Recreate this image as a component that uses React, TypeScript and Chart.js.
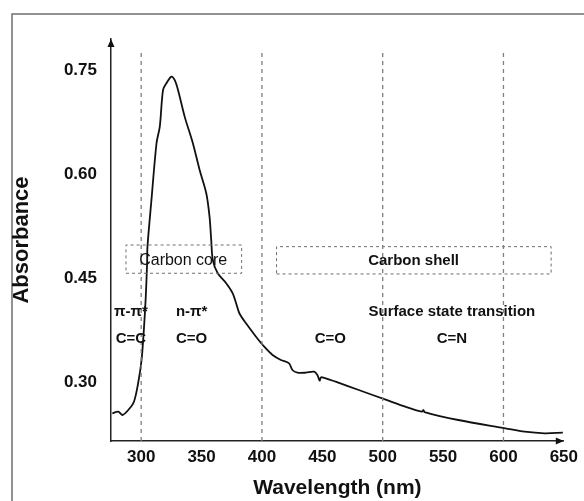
import React, { useEffect, useRef } from "react";
import { Chart, registerables } from "chart.js";

Chart.register(...registerables);

// Absorbance spectrum (wavelength nm, absorbance)
const wavelengths = [
  276.1, 281.0, 284.6, 289.3, 294.0, 297.5, 300.3, 302.2, 303.8, 304.9, 305.2, 308.5, 312.7, 315.4,
  318.1, 320.9, 325.0, 327.7, 330.5, 336.0, 342.8, 348.4, 353.9, 356.6, 358.0, 359.3, 363.4, 370.4,
  375.8, 378.6, 381.3, 386.8, 395.1, 401.9, 408.8, 415.7, 422.5, 425.2, 429.4, 436.3, 443.1, 445.9,
  447.8, 448.5, 450.0, 461.0, 480.2, 503.1, 518.7, 532.4, 533.8, 534.6, 562.6, 601.6, 617.6, 634.1,
  649.2,
];
const absorbance = [
  0.255, 0.2573, 0.2525, 0.2597, 0.2717, 0.2987, 0.3319, 0.3752, 0.4232, 0.4719, 0.4954, 0.5628,
  0.6446, 0.6685, 0.7215, 0.7312, 0.7407, 0.7359, 0.7215, 0.683, 0.6446, 0.606, 0.5724, 0.5387,
  0.505, 0.4762, 0.457, 0.4426, 0.4281, 0.4137, 0.3993, 0.3848, 0.3655, 0.3511, 0.3391, 0.3319,
  0.3271, 0.3174, 0.3136, 0.3136, 0.315, 0.3102, 0.302, 0.3059, 0.3069, 0.3006, 0.2886, 0.2742,
  0.2645, 0.2573, 0.2597, 0.2568, 0.2453, 0.2333, 0.2284, 0.2261, 0.227,
];

const xTicks = [300, 350, 400, 450, 500, 550, 600, 650];
const yTicks = [0.3, 0.45, 0.6, 0.75];
const dividerWavelengths = [300, 400, 500, 600];
const dividerTop = 0.775;

// Dashed region boxes: [x0, x1, yBottom, yTop]
const coreBox = [287.4, 383.2, 0.457, 0.4978];
const shellBox = [412.1, 639.5, 0.456, 0.4954];

// Annotation labels: text, wavelength, absorbance, bold, size
const labelTexts = ["Carbon core", "Carbon shell", "π-π*", "n-π*", "C=C", "C=O", "C=O", "Surface state transition", "C=N"];
const labelX = [334.8, 525.6, 291.5, 341.8, 291.5, 341.8, 456.7, 557.3, 557.3];
const labelY = [0.476, 0.4747, 0.4012, 0.4012, 0.3622, 0.3622, 0.3622, 0.4012, 0.3622];
const labelBold = [false, true, true, true, true, true, true, true, true];
const labelSize = [16, 15, 15, 15, 15, 15, 15, 15, 15];

const FONT = "'Liberation Sans', Arial, Helvetica, sans-serif";

function boxPoints(b: number[]) {
  return [
    { x: b[0], y: b[2] },
    { x: b[1], y: b[2] },
    { x: b[1], y: b[3] },
    { x: b[0], y: b[3] },
    { x: b[0], y: b[2] },
  ];
}

const decorPlugin = {
  id: "decor",
  beforeDraw(chart: any) {
    const ctx = chart.ctx;
    ctx.save();
    ctx.fillStyle = "#ffffff";
    ctx.fillRect(0, 0, chart.width, chart.height);
    ctx.strokeStyle = "#6e6e6e";
    ctx.lineWidth = 1.5;
    ctx.beginPath();
    ctx.moveTo(12, chart.height);
    ctx.lineTo(12, 14);
    ctx.lineTo(chart.width, 14);
    ctx.stroke();
    ctx.restore();
  },
  afterDraw(chart: any) {
    const ctx = chart.ctx;
    const { left, right, top, bottom } = chart.chartArea;
    ctx.save();
    ctx.fillStyle = "#111";
    // y arrow
    ctx.beginPath();
    ctx.moveTo(left, top);
    ctx.lineTo(left - 3.5, top + 8);
    ctx.lineTo(left + 3.5, top + 8);
    ctx.closePath();
    ctx.fill();
    // x arrow
    ctx.beginPath();
    ctx.moveTo(right, bottom);
    ctx.lineTo(right - 8, bottom - 3.5);
    ctx.lineTo(right - 8, bottom + 3.5);
    ctx.closePath();
    ctx.fill();

    const xs = chart.scales.x;
    const ys = chart.scales.y;
    ctx.textAlign = "center";
    ctx.textBaseline = "middle";
    ctx.fillStyle = "#111";
    labelTexts.forEach((t, i) => {
      ctx.font = `${labelBold[i] ? "bold " : ""}${labelSize[i]}px ${FONT}`;
      ctx.fillText(t, xs.getPixelForValue(labelX[i]), ys.getPixelForValue(labelY[i]));
    });
    ctx.restore();
  },
};

export default function App() {
  const ref = useRef<HTMLCanvasElement | null>(null);
  useEffect(() => {
    if (!ref.current) return;
    const spectrum = wavelengths.map((w, i) => ({ x: w, y: absorbance[i] }));
    const dividerSets = dividerWavelengths.map((w) => ({
      data: [
        { x: w, y: 0.215 },
        { x: w, y: dividerTop },
      ],
      borderColor: "#7f7f7f",
      borderWidth: 1.3,
      borderDash: [4, 4],
      pointRadius: 0,
      fill: false,
    }));
    const boxSets = [coreBox, shellBox].map((b) => ({
      data: boxPoints(b),
      borderColor: "#6f6f6f",
      borderWidth: 1,
      borderDash: [3, 3],
      pointRadius: 0,
      fill: false,
    }));
    const chart = new Chart(ref.current, {
      type: "line",
      data: {
        datasets: [
          ...dividerSets,
          ...boxSets,
          {
            data: spectrum,
            borderColor: "#111111",
            borderWidth: 1.8,
            pointRadius: 0,
            tension: 0.3,
            fill: false,
          },
        ] as any,
      },
      plugins: [decorPlugin],
      options: {
        animation: false,
        responsive: false,
        layout: { padding: { left: 0, top: 39, right: 18, bottom: 0 } },
        plugins: { legend: { display: false }, tooltip: { enabled: false } },
        elements: { line: { borderCapStyle: "butt" } },
        scales: {
          x: {
            type: "linear",
            min: 275,
            max: 650,
            afterFit: (s: any) => {
              s.height = 60;
            },
            afterBuildTicks: (s: any) => {
              s.ticks = xTicks.map((v) => ({ value: v }));
            },
            grid: { display: false, drawTicks: false },
            border: { display: true, color: "#222", width: 1.5 },
            ticks: {
              padding: 6,
              color: "#111",
              font: { family: FONT, size: 17, weight: "bold" },
              callback: (v: any) => String(v),
            },
            title: {
              display: true,
              text: "Wavelength (nm)",
              color: "#111",
              font: { family: FONT, size: 21, weight: "bold" },
              padding: { top: 0, bottom: 0 },
            },
          },
          y: {
            type: "linear",
            min: 0.215,
            max: 0.795,
            afterFit: (s: any) => {
              s.width = 111;
            },
            afterBuildTicks: (s: any) => {
              s.ticks = yTicks.map((v) => ({ value: v }));
            },
            grid: { display: false, drawTicks: false },
            border: { display: true, color: "#222", width: 1.5 },
            ticks: {
              padding: 14,
              color: "#111",
              font: { family: FONT, size: 17, weight: "bold" },
              callback: (v: any) => Number(v).toFixed(2),
            },
            title: {
              display: true,
              text: "Absorbance",
              color: "#111",
              font: { family: FONT, size: 22, weight: "bold" },
              padding: { top: 9, bottom: 0 },
            },
          },
        },
      } as any,
    });
    return () => chart.destroy();
  }, []);
  return (
    <div style={{ position: "absolute", left: 0, top: 0, width: 584, height: 501, background: "#fff" }}>
      <canvas ref={ref} width={584} height={501} style={{ display: "block" }} />
    </div>
  );
}
